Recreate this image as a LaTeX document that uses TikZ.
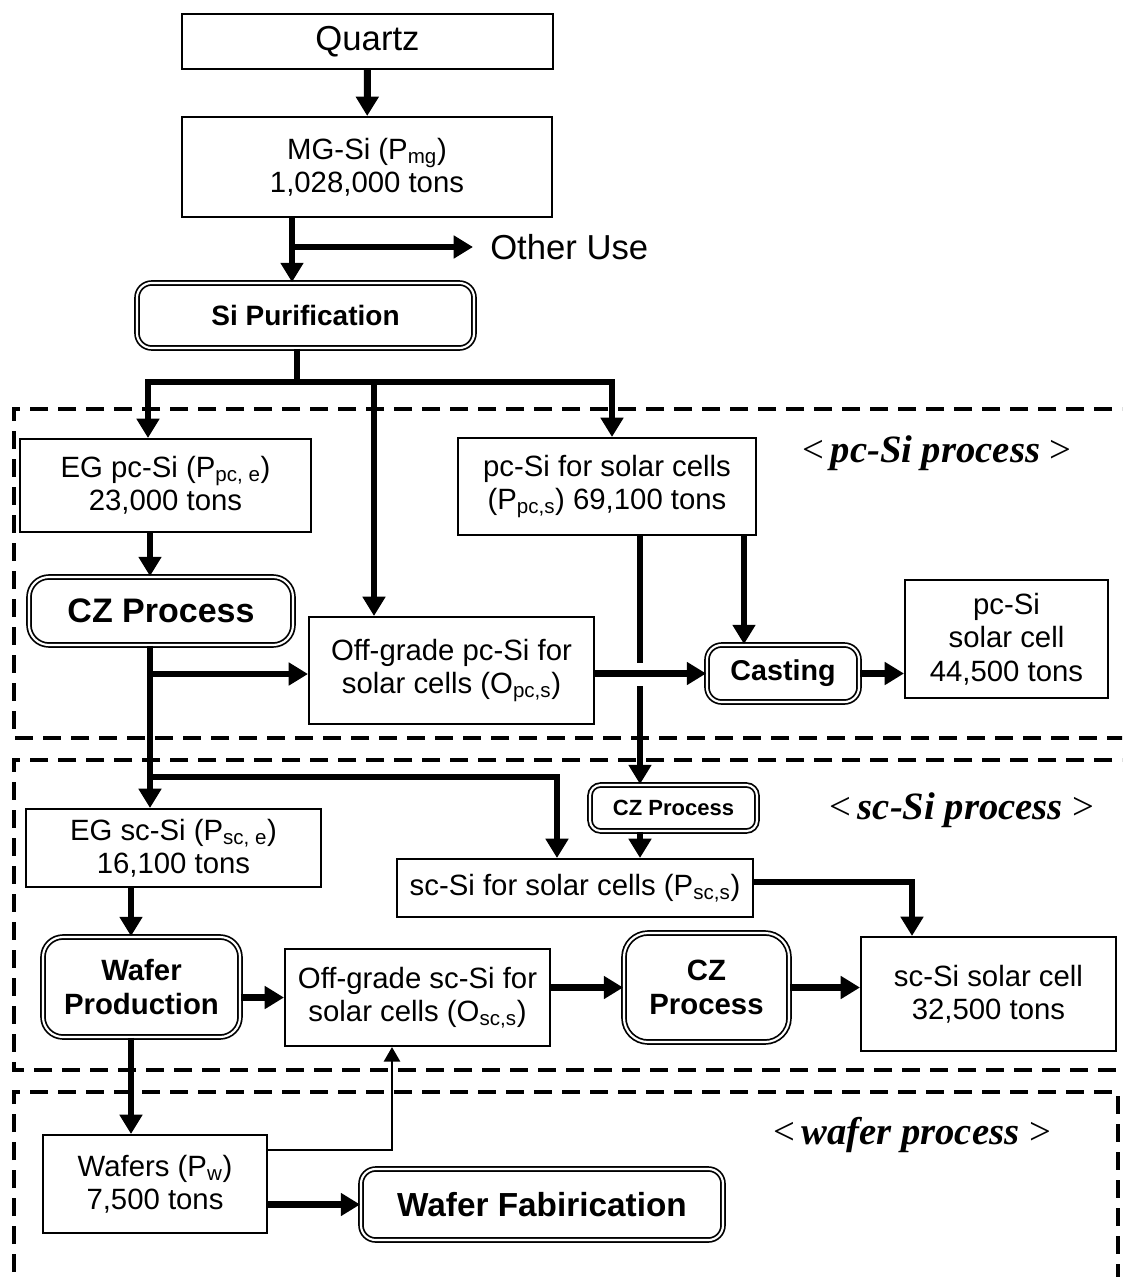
\documentclass[tikz,border=0pt]{standalone}
\usepackage{fontspec}
\setmainfont{Liberation Sans}
\newfontfamily\tnr{Liberation Serif}
\usetikzlibrary{arrows.meta,shadows}
\begin{document}
\begin{tikzpicture}[x=0.75pt,y=-0.75pt,
  sz/.style 2 args={minimum width=#1*0.75pt, minimum height=#2*0.75pt},
  box/.style={draw, line width=1.5pt, rectangle, inner sep=0pt, align=center,
    font=\fontsize{22}{25}\selectfont},
  proc/.style={draw, fill=white, line width=1.3pt, double, double distance=1.6pt,
    rounded corners=11pt, inner sep=0pt, align=center,
    drop shadow={shadow xshift=1.1pt, shadow yshift=-1.1pt, fill=black, opacity=1},
    font=\bfseries\fontsize{21.5}{26}\selectfont},
  tip/.tip={Triangle[length=14.5pt,width=16.5pt]},
  conn/.style={line width=5.2pt, -tip},
  conntwo/.style={line width=5.2pt, tip-tip},
  plain/.style={line width=5.2pt},
  thinconn/.style={line width=2.2pt, -{Triangle[length=11pt,width=12pt]}},
  region/.style={line width=3.2pt, dash pattern=on 13.5pt off 7.5pt},
  tag/.style={font=\tnr\fontsize{29}{32}\selectfont}
]
\useasboundingbox (0,0) rectangle (1122,1277);
\clip (0,0) rectangle (1122,1277);

% dashed process regions
\draw[region] (1140,409) -- (14,409) -- (14,738) -- (1140,738);
\draw[region] (1140,760) -- (14,760) -- (14,1070) -- (1140,1070);
\draw[region] (14,1300) -- (14,1092) -- (1118,1092) -- (1118,1300);

% region labels
\node[tag] (pclab) at (937,453) {<\,\textbf{\textit{pc-Si process}}\ >};
\node[tag] (sclab) at (962,810) {<\,\textbf{\textit{sc-Si process}}\ >};
\node[tag] (wflab) at (912,1135) {<\,\textbf{\textit{wafer process}}\ >};

% nodes
\node[box, sz={371}{55}, font=\fontsize{26}{30}\selectfont] (quartz) at (367.5,41.5) {Quartz};
\node[box, sz={370}{100}] (mgsi) at (367,167) {MG-Si (P\textsubscript{mg})\\1,028,000 tons};
\node[anchor=west, inner sep=0pt, inner xsep=12.75pt, font=\fontsize{26}{30}\selectfont] (other) at (473,247) {Other Use};
\node[proc, sz={337}{65}, font=\bfseries\fontsize{21}{25}\selectfont] (purif) at (305.5,315.5) {Si Purification};

\node[box, sz={291}{93}] (egpc) at (165.5,485.5) {EG pc-Si (P\textsubscript{pc, e})\\23,000 tons};
\node[box, sz={298}{97}] (pcs) at (607,486.5) {pc-Si for solar cells\\(P\textsubscript{pc,s}) 69,100 tons};
\node[proc, sz={264}{68}, rounded corners=15pt, font=\bfseries\fontsize{25.5}{30}\selectfont] (cz1) at (161,611) {CZ Process};
\node[box, sz={285}{107}] (offpc) at (451.5,670.5) {Off-grade pc-Si for\\solar cells (O\textsubscript{pc,s})};
\node[proc, sz={152}{57}] (cast) at (783,673.5) {Casting};
\node[box, sz={203}{118}] (pccell) at (1006.5,639) {pc-Si\\solar cell\\44,500 tons};

\node[proc, sz={167}{46}, rounded corners=8pt, font=\bfseries\fontsize{16.5}{20}\selectfont] (czs) at (673.5,808) {CZ Process};
\node[box, sz={295}{78}] (egsc) at (173.5,848) {EG sc-Si (P\textsubscript{sc, e})\\16,100 tons};
\node[box, sz={356}{58}] (scs) at (575,888) {sc-Si for solar cells (P\textsubscript{sc,s})};
\node[box, sz={255}{114}] (sccell) at (988.5,994) {sc-Si solar cell\\32,500 tons};
\node[proc, sz={197}{100}, rounded corners=15pt, font=\bfseries\fontsize{22}{26}\selectfont] (wafprod) at (141.5,987) {Wafer\\Production};
\node[box, sz={265}{97}] (offsc) at (417.5,997.5) {Off-grade sc-Si for\\solar cells (O\textsubscript{sc,s})};
\node[proc, sz={165}{109}, rounded corners=18pt, font=\bfseries\fontsize{22}{26}\selectfont] (cz2) at (706.5,987.5) {CZ\\Process};

\node[box, sz={224}{98}] (wafers) at (155,1184) {Wafers (P\textsubscript{w})\\7,500 tons};
\node[proc, sz={362}{71}, font=\bfseries\fontsize{25}{29}\selectfont] (waffab) at (542,1204.5) {Wafer Fabirication};

% connectors
\draw[conn] (quartz) -- (mgsi);
\coordinate (b1) at (292,247);
\draw[plain] (mgsi.south -| b1) -- (b1);
\draw[conn] (b1) -- (purif.north -| b1);
\draw[conn] (b1) -- (other.west);

\coordinate (bp) at (297,382);
\coordinate (bl) at (148,382);
\coordinate (bm) at (374,382);
\coordinate (br) at (612,382);
\draw[plain] (purif.south -| bp) -- (bp);
\draw[conntwo] (egpc.north -| bl) |- (br) -- (pcs.north -| br);
\draw[conn] (bm) -- (offpc.north -| bm);

\coordinate (c1) at (150,674);
\draw[conn] (egpc.south -| c1) -- (cz1.north -| c1);
\draw[conn] (cz1.south -| c1) -- (egsc.north -| c1);
\draw[conn] (c1) -- (offpc.west |- c1);
\coordinate (b2l) at (150,777);
\coordinate (b2r) at (557,777);
\draw[conn] (b2l) -| (scs.north -| b2r);

\draw[conn] (offpc.east |- cast.west) -- (cast.west);
\coordinate (pv1) at (640,663);
\coordinate (pv2) at (640,686);
\draw[plain] (pcs.south -| pv1) -- (pv1);
\draw[conn] (pv2) -- (czs.north -| pv2);
\coordinate (p2) at (744,600);
\draw[conn] (pcs.south -| p2) -- (cast.north -| p2);
\draw[conn] (cast.east) -- (pccell.west |- cast.east);

\draw[conn] (czs.south -| pv2) -- (scs.north -| pv2);
\coordinate (s1) at (912,882);
\draw[conn] (scs.east |- s1) -| (sccell.north -| s1);

\coordinate (c2) at (131,1000);
\draw[conn] (egsc.south -| c2) -- (wafprod.north -| c2);
\draw[conn] (wafprod.east |- offsc.west) -- (offsc.west);
\draw[conn] (offsc.east |- cz2.west) -- (cz2.west);
\draw[conn] (cz2.east) -- (sccell.west |- cz2.east);
\draw[conn] (wafprod.south -| c2) -- (wafers.north -| c2);
\coordinate (w1) at (392,1150);
\draw[thinconn] (wafers.east |- w1) -| (offsc.south -| w1);
\draw[conn] (wafers.east |- waffab.west) -- (waffab.west);
\end{tikzpicture}
\end{document}
